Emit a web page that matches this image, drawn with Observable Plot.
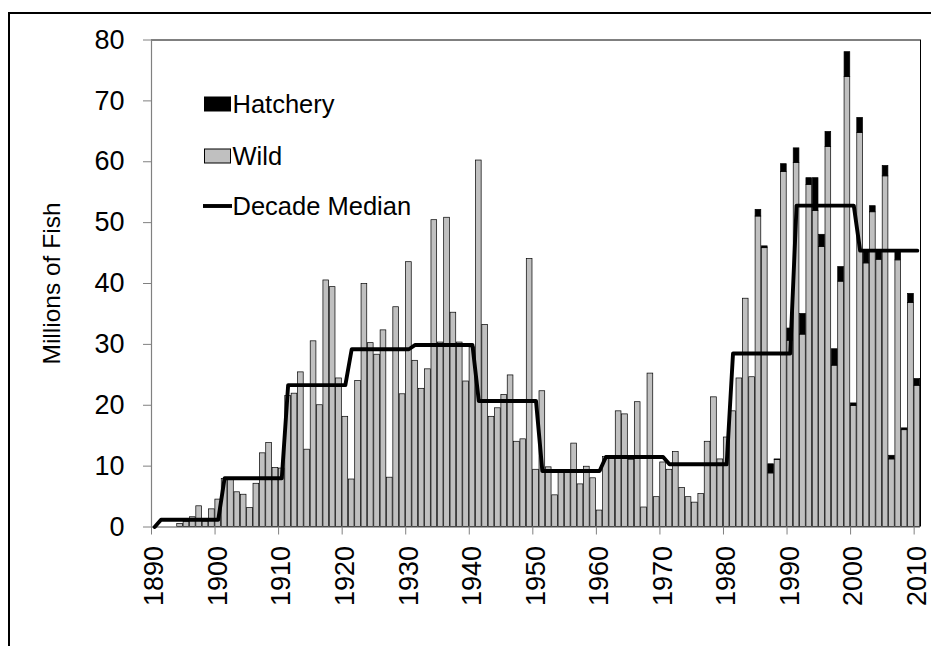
<!DOCTYPE html>
<html>
<head>
<meta charset="utf-8">
<script src="https://cdn.jsdelivr.net/npm/d3@7"></script>
<script src="https://cdn.jsdelivr.net/npm/@observablehq/plot@0.6"></script>
<style>
  html, body { margin: 0; padding: 0; background: #fff; overflow: hidden; }
  #wrap { position: relative; width: 931px; height: 646px; font-family: "Liberation Sans", Arial, sans-serif; }
  #frame { position: absolute; left: 7.5px; top: 11.5px; width: 1000px; height: 1000px;
           border-top: 2.5px solid #000; border-left: 2.5px solid #000; box-sizing: border-box; }
  #wrap svg { position: absolute; left: 0; top: 0; }
</style>
</head>
<body>
<div id="wrap"><div id="frame"></div></div>
<script>
// Annual catch, millions of fish, 1890-2010
const years = d3.range(1890, 2011);

// Wild-origin portion of each year's catch
const wild = [
  0, 0, 0, 0, 0.5, 0.8, 1.6, 3.4, 0.9, 2.9,            // 1890s
  4.5, 7.9, 7.7, 5.7, 5.3, 3.1, 7.1, 12.1, 13.8, 9.7,  // 1900s
  9.6, 21.5, 21.9, 25.4, 12.7, 30.5, 20.0, 40.5, 39.4, 24.4, // 1910s
  18.1, 7.8, 24.0, 39.9, 30.2, 28.3, 32.3, 8.1, 36.1, 21.8,  // 1920s
  43.5, 27.3, 22.7, 25.9, 50.4, 30.3, 50.8, 35.2, 30.3, 23.9, // 1930s
  29.5, 60.2, 33.2, 18.1, 19.5, 21.7, 24.9, 14.0, 14.4, 44.0, // 1940s
  9.4, 22.3, 9.8, 5.2, 9.2, 9.2, 13.7, 7.0, 9.9, 8.0,         // 1950s
  2.7, 11.5, 11.4, 19.0, 18.5, 11.0, 20.5, 3.2, 25.2, 4.9,    // 1960s
  10.6, 9.4, 12.3, 6.4, 4.9, 4.0, 5.4, 14.0, 21.3, 11.1,      // 1970s
  14.7, 19.0, 24.4, 37.5, 24.6, 51.0, 45.8, 8.8, 11.0, 58.3,  // 1980s
  30.6, 59.8, 31.6, 56.2, 51.9, 46.0, 62.4, 26.5, 40.3, 73.9, // 1990s
  19.9, 64.7, 43.3, 51.7, 43.9, 57.6, 11.1, 43.8, 15.9, 36.8, // 2000s
  23.2                                                         // 2010
];

// Hatchery-origin portion, stacked on top of the wild catch
const hatchery = [
  0, 0, 0, 0, 0, 0, 0, 0, 0, 0,
  0, 0, 0, 0, 0, 0, 0, 0, 0, 0,
  0, 0, 0, 0, 0, 0, 0, 0, 0, 0,
  0, 0, 0, 0, 0, 0, 0, 0, 0, 0,
  0, 0, 0, 0, 0, 0, 0, 0, 0, 0,
  0, 0, 0, 0, 0, 0, 0, 0, 0, 0,
  0, 0, 0, 0, 0, 0, 0, 0, 0, 0,
  0, 0, 0, 0, 0, 0, 0, 0, 0, 0,
  0, 0, 0, 0, 0, 0, 0, 0, 0, 0,
  0, 0, 0, 0, 0, 1.1, 0.3, 1.5, 0.1, 1.3,
  2.0, 2.4, 3.4, 1.1, 5.4, 2.0, 2.5, 2.7, 2.4, 4.1,
  0.4, 2.5, 1.8, 1.0, 1.6, 1.7, 0.6, 1.3, 0.3, 1.5,
  1.1
];

// Median of total catch for each decade (first year of each decade listed)
const decadeStarts  = [1881, 1891, 1901, 1911, 1921, 1931, 1941, 1951, 1961, 1971, 1981, 1991, 2001];
const decadeMedians = [0, 1.2, 8.0, 23.3, 29.2, 29.9, 20.7, 9.2, 11.5, 10.3, 28.5, 52.8, 45.4];

const yTicks = [0, 10, 20, 30, 40, 50, 60, 70, 80];
const labelYears = [1890, 1900, 1910, 1920, 1930, 1940, 1950, 1960, 1970, 1980, 1990, 2000, 2010];

const rows = years.map((year, i) => ({year, wild: wild[i], hatchery: hatchery[i]}));
const medianRows = years.map(year => ({
  year,
  median: decadeMedians[d3.bisectRight(decadeStarts, year) - 1]
}));
// tick marks sit on the boundary in front of each labelled year
const tickYears = labelYears.map(y => y - 0.5);

const band = {x1: d => d.year - 0.5, x2: d => d.year + 0.5, insetLeft: 0.33, insetRight: 0.33};

const chart = Plot.plot({
  width: 931,
  height: 646,
  marginLeft: 151,
  marginRight: 11,
  marginTop: 39.5,
  marginBottom: 119.5,
  style: {fontFamily: "'Liberation Sans', Arial, sans-serif", color: "#000", background: "transparent", overflow: "visible"},
  x: {type: "linear", domain: [1889.5, 2010.5]},
  y: {domain: [0, 80]},
  marks: [
    Plot.rect(rows.filter(d => d.wild > 0), {
      ...band, y1: 0, y2: "wild",
      fill: "#c0c0c0", stroke: "#000", strokeWidth: 0.7
    }),
    Plot.rect(rows.filter(d => d.hatchery > 0), {
      ...band, y1: "wild", y2: d => d.wild + d.hatchery,
      fill: "#000", stroke: "#000", strokeWidth: 0.7
    }),
    Plot.ruleY([80], {stroke: "#000", strokeWidth: 1}),
    Plot.ruleX([2010.5], {stroke: "#000", strokeWidth: 1}),
    Plot.ruleX([1889.5], {stroke: "#808080", strokeWidth: 1.2}),
    Plot.ruleY([0], {stroke: "#505050", strokeWidth: 1.2}),
    Plot.line(medianRows, {x: "year", y: "median", stroke: "#000", strokeWidth: 3.9}),
    Plot.axisY(yTicks, {tickSize: 8, tickPadding: 19, fontSize: 27, label: null, stroke: "#808080"}),
    Plot.axisX(tickYears, {tickSize: 8, tickFormat: () => "", label: null, stroke: "#808080"}),
    Plot.axisX(labelYears, {tickSize: 0, tickRotate: -90, tickPadding: 19, fontSize: 27, label: null, tickFormat: d => String(d)}),
    Plot.text(["Millions of Fish"], {frameAnchor: "left", textAnchor: "middle", rotate: -90, dx: -99, fontSize: 24.5})
  ]
});

const wrap = document.getElementById("wrap");
wrap.appendChild(chart);

// Legend in the upper-left of the plot area
const legendItems = [
  {label: "Hatchery", kind: "box", fill: "#000"},
  {label: "Wild", kind: "box", fill: "#c0c0c0"},
  {label: "Decade Median", kind: "line"}
];
const legend = d3.select(wrap).append("svg")
  .attr("width", 931).attr("height", 646)
  .style("font-family", "'Liberation Sans', Arial, sans-serif");
const rowY = [104, 156, 206];
legendItems.forEach((item, i) => {
  const g = legend.append("g").attr("transform", `translate(204,${rowY[i]})`);
  if (item.kind === "box") {
    g.append("rect").attr("x", 0.5).attr("y", -7).attr("width", 26).attr("height", 14)
      .attr("fill", item.fill).attr("stroke", "#000").attr("stroke-width", 1);
  } else {
    g.append("line").attr("x1", -1).attr("x2", 28).attr("y1", 0).attr("y2", 0)
      .attr("stroke", "#000").attr("stroke-width", 3.9);
  }
  g.append("text").attr("x", 28.5).attr("y", 9.3)
    .attr("font-size", 25.5).attr("fill", "#000").text(item.label);
});
</script>
</body>
</html>
